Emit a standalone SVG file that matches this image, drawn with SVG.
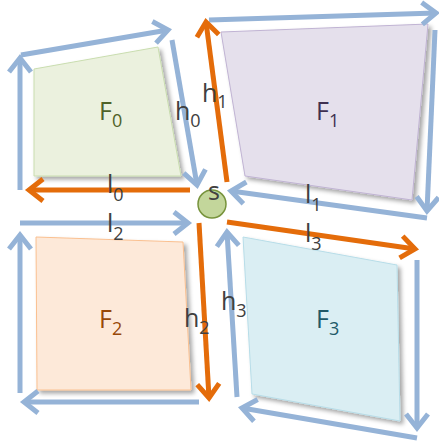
<svg xmlns="http://www.w3.org/2000/svg" width="439" height="443" viewBox="0 0 439 443">
<style>
.b{stroke:#95B3D7;stroke-width:5;fill:none}
.o{stroke:#E46C0A;stroke-width:5;fill:none}
.b{marker-end:url(#ab)}
.o{marker-end:url(#ao)}
.t{font-family:"Open Sans","Liberation Sans",sans-serif;font-size:25px;fill:#404040}
.sub{font-size:18px}
.face{filter:url(#sh)}
</style>
<defs>
<marker id="ab" markerUnits="userSpaceOnUse" markerWidth="30" markerHeight="34" viewBox="-20 -17 30 34" refX="0" refY="0" orient="auto" overflow="visible">
<path d="M-14,-11 L0,0 L-14,11" fill="none" stroke="#95B3D7" stroke-width="5"/>
</marker>
<marker id="ao" markerUnits="userSpaceOnUse" markerWidth="30" markerHeight="34" viewBox="-20 -17 30 34" refX="0" refY="0" orient="auto" overflow="visible">
<path d="M-14,-11 L0,0 L-14,11" fill="none" stroke="#E46C0A" stroke-width="5"/>
</marker>
<filter id="sh" x="-10%" y="-10%" width="130%" height="130%">
<feDropShadow dx="3" dy="3" stdDeviation="2" flood-color="#000" flood-opacity="0.35"/>
</filter>
</defs>

<g id="F0">
<polygon class="face" points="34,69 158,47 181,176 34,176" fill="#EBF1DE" stroke="#C9DDAF" stroke-width="1"/>
<text class="t" x="99" y="120" fill="#4F6228" style="fill:#4F6228">F<tspan class="sub" dy="7">0</tspan></text>
</g>
<g id="F1">
<polygon class="face" points="221,32 428,24 412,200 245,176" fill="#E5E0EC" stroke="#C0B3D3" stroke-width="1"/>
<text class="t" x="316" y="120" style="fill:#3F3151">F<tspan class="sub" dy="7">1</tspan></text>
</g>
<g id="F2">
<polygon class="face" points="36,237 183,242 191,390 37,390" fill="#FDE9D9" stroke="#FAC090" stroke-width="1"/>
<text class="t" x="99" y="328" style="fill:#984807">F<tspan class="sub" dy="7">2</tspan></text>
</g>
<g id="F3">
<polygon class="face" points="243,237 397,265 400,421 252,394" fill="#DAEEF3" stroke="#B7DDE8" stroke-width="1"/>
<text class="t" x="316" y="328" style="fill:#215968">F<tspan class="sub" dy="7">3</tspan></text>
</g>
<g id="s">
<circle cx="212" cy="204" r="14" fill="#C3D69B" stroke="#77933C" stroke-width="1.5"/>
<text class="t" x="214" y="200" text-anchor="middle">s</text>
</g>

<g id="connectors">
<line class="b" x1="20" y1="190" x2="20" y2="58"/>
<line class="b" x1="21" y1="55" x2="168" y2="30"/>
<line class="b" x1="172" y1="40" x2="197" y2="185"/>
<line class="o" x1="190" y1="190" x2="29" y2="190"/>

<line class="b" x1="209" y1="20" x2="436" y2="13"/>
<line class="b" x1="435" y1="30" x2="427" y2="211"/>
<line class="b" x1="427" y1="218" x2="231" y2="191"/>
<line class="o" x1="227" y1="182" x2="206" y2="22"/>

<line class="b" x1="20" y1="223" x2="188" y2="223"/>
<line class="b" x1="20" y1="393" x2="20" y2="235"/>
<line class="b" x1="199" y1="402" x2="24" y2="402"/>
<line class="o" x1="199" y1="223" x2="209" y2="398"/>

<line class="o" x1="227" y1="222" x2="415" y2="249"/>
<line class="b" x1="237" y1="397" x2="227" y2="232"/>
<line class="b" x1="417" y1="260" x2="417" y2="428"/>
<line class="b" x1="417" y1="438" x2="242" y2="408"/>
</g>

<g id="labels">
<text class="t" x="175" y="120">h<tspan class="sub" dy="7">0</tspan></text>
<text class="t" x="107" y="193">l<tspan class="sub" dy="8">0</tspan></text>
<text class="t" x="202" y="102">h<tspan class="sub" dy="6">1</tspan></text>
<text class="t" x="305" y="203">l<tspan class="sub" dy="8">1</tspan></text>
<text class="t" x="107" y="232">l<tspan class="sub" dy="8">2</tspan></text>
<text class="t" x="184" y="327">h<tspan class="sub" dy="7">2</tspan></text>
<text class="t" x="221" y="310">h<tspan class="sub" dy="7">3</tspan></text>
<text class="t" x="305" y="242">l<tspan class="sub" dy="8">3</tspan></text>
</g>
</svg>
